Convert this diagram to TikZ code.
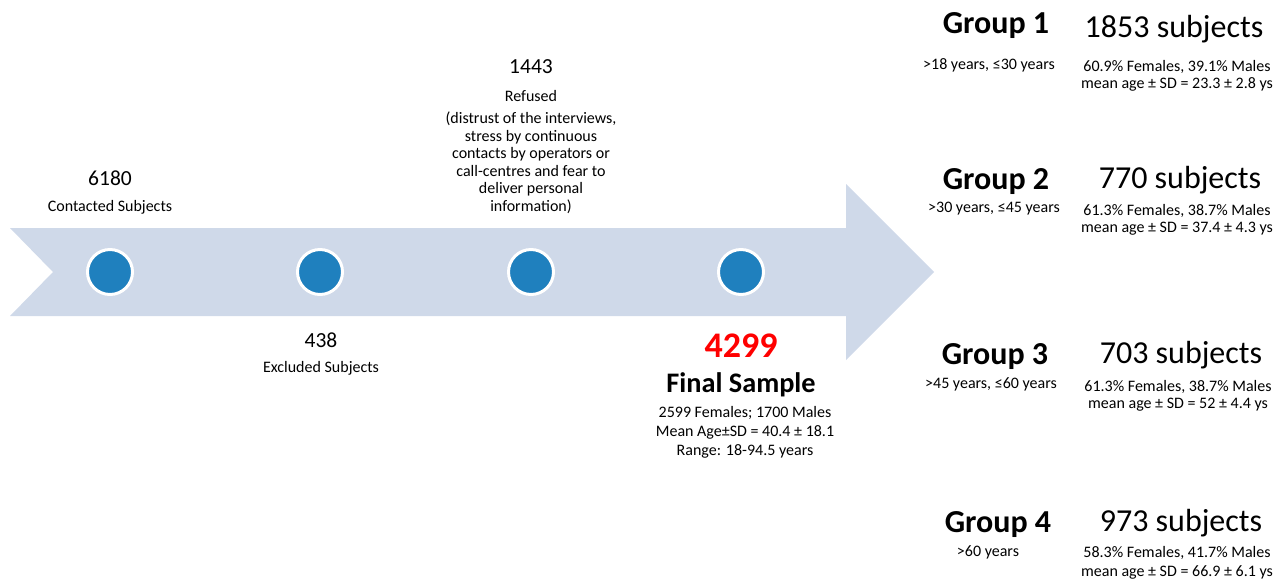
\documentclass[tikz,border=0pt]{standalone}
\usepackage{fontspec}
\setmainfont{Carlito}
\definecolor{arrowfill}{RGB}{207,217,233}
\definecolor{dotblue}{RGB}{31,128,190}
\definecolor{finalred}{RGB}{255,0,0}
\begin{document}
\begin{tikzpicture}[x=1pt,y=-1pt,
  every node/.style={inner sep=0pt,outer sep=0pt,align=center},
  bignum/.style={font=\fontsize{21.5}{25}\selectfont},
  small/.style={font=\fontsize{16}{17.5}\selectfont},
  smallwide/.style={font=\fontsize{16}{19}\selectfont},
  grouptitle/.style={font=\fontsize{32}{36}\selectfont\bfseries},
  subj/.style={font=\fontsize{32}{36}\selectfont},
  dot/.style={circle,fill=dotblue,draw=white,line width=3pt,minimum size=45pt}
]
\useasboundingbox (0,0) rectangle (1284,579);
% big arrow
\fill[arrowfill] (10,228) -- (846,228) -- (846,184) -- (934,272) -- (846,360) -- (846,316) -- (10,316) -- (53,272) -- cycle;
% dots
\node[dot] (d1) at (110,272) {};
\node[dot] (d2) at (320,272) {};
\node[dot] (d3) at (531,272) {};
\node[dot] (d4) at (741,272) {};
% step 1
\node[bignum] (n1) at (110,178) {6180};
\node[small] (l1) at (110,207) {Contacted Subjects};
% step 2
\node[bignum] (n2) at (321,340) {438};
\node[small] (l2) at (321,368) {Excluded Subjects};
% step 3
\node[bignum] (n3) at (531,67) {1443};
\node[small] (l3) at (531,96) {Refused};
\node[small,anchor=north] (p3) at (531,112) {(distrust of the interviews,\\stress by continuous\\contacts by operators or\\call-centres and fear to\\deliver personal\\information)};
% step 4
\node[font=\fontsize{36}{40}\selectfont\bfseries,text=finalred] (n4) at (741,346) {4299};
\node[font=\fontsize{28.3}{32}\selectfont\bfseries] (l4) at (741,385) {Final Sample};
\node[smallwide,anchor=north] (p4) at (745,406) {2599 Females; 1700 Males\\Mean Age±SD = 40.4 ± 18.1\\Range: 18-94.5 years};
% groups
\node[grouptitle] (g1) at (996,26) {Group 1};
\node[small] (g1a) at (989,65) {>18 years, ≤30 years};
\node[subj] (s1) at (1174,29) {1853 subjects};
\node[small,anchor=north] (s1a) at (1177,60) {60.9\% Females, 39.1\% Males\\mean age ± SD = 23.3 ± 2.8 ys};

\node[grouptitle] (g2) at (996,182) {Group 2};
\node[small] (g2a) at (994,209) {>30 years, ≤45 years};
\node[subj] (s2) at (1180,180) {770 subjects};
\node[small,anchor=north] (s2a) at (1177,204) {61.3\% Females, 38.7\% Males\\mean age ± SD = 37.4 ± 4.3 ys};

\node[grouptitle] (g3) at (995,357) {Group 3};
\node[small] (g3a) at (991,384) {>45 years, ≤60 years};
\node[subj] (s3) at (1181,355) {703 subjects};
\node[small,anchor=north] (s3a) at (1178,380) {61.3\% Females, 38.7\% Males\\mean age ± SD = 52 ± 4.4 ys};

\node[grouptitle] (g4) at (998,525) {Group 4};
\node[small] (g4a) at (988,552) {>60 years};
\node[subj] (s4) at (1181,523) {973 subjects};
\node[smallwide,anchor=north] (s4a) at (1177,546) {58.3\% Females, 41.7\% Males\\mean age ± SD = 66.9 ± 6.1 ys};
\end{tikzpicture}
\end{document}
